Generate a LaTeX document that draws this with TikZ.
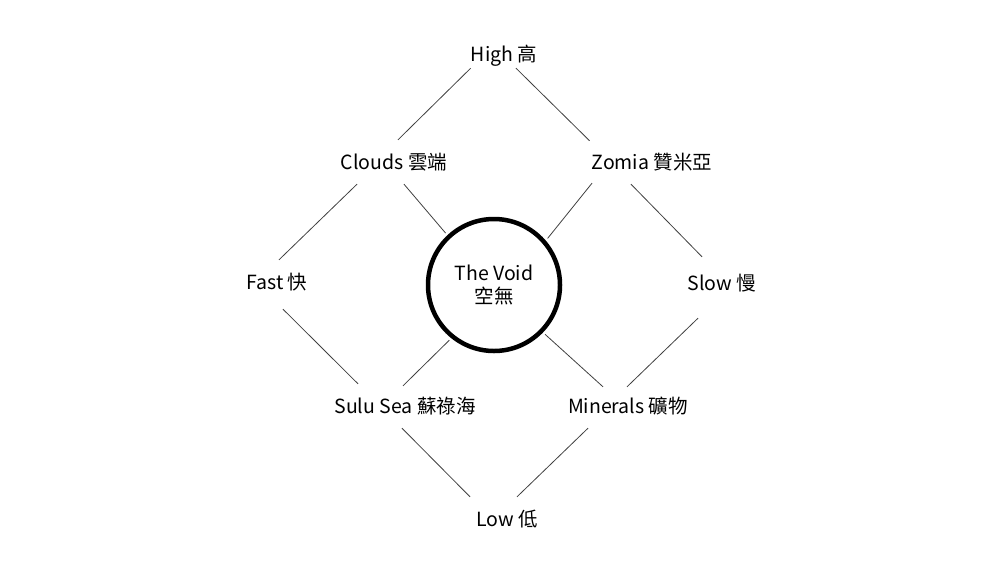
\documentclass[tikz,border=0pt]{standalone}
\usepackage{fontspec}
\setmainfont{Noto Sans CJK TC}
\begin{document}
\begin{tikzpicture}[
  x=1pt, y=-1pt,
  label/.style={inner sep=0pt, anchor=base, font=\fontsize{19.5}{23}\selectfont,
                text height=13pt, text depth=4pt},
  void/.style={circle, draw, line width=4.5pt, minimum size=132pt, inner sep=0pt,
               outer sep=5pt, align=center, font=\fontsize{19.5}{23}\selectfont},
  link/.style={draw=black!75, line width=0.8pt}
]
\useasboundingbox (0,0) rectangle (1000,563);
\node[label] (high) at (504,61) {High 高};
\node[label] (clouds) at (394,169) {Clouds 雲端};
\node[label] (zomia) at (652,169) {Zomia 贊米亞};
\node[label] (fast) at (277,289) {Fast 快};
\node[label] (slow) at (722,290) {Slow 慢};
\node[label] (sulu) at (405,413) {Sulu Sea 蘇祿海};
\node[label] (minerals) at (628,413) {Minerals 礦物};
\node[label] (low) at (507,526) {Low 低};
\node[void] (void) at (494,285) {\raisebox{-8pt}{\shortstack{The Void\\[3pt]空無}}};

% outer diamond
\draw[link] ([shift={(0,3)}]high.south west) -- ([shift={(4,-16)}]clouds.north);
\draw[link] ([shift={(12,3)}]high.south) -- ([shift={(-2,-15)}]zomia.north west);
\draw[link] ([shift={(-37,11)}]clouds.south) -- ([shift={(2,-16)}]fast.north);
\draw[link] ([shift={(-21,11)}]zomia.south) -- ([shift={(-20,-20)}]slow.north);
\draw[link] ([shift={(6,16)}]fast.south) -- ([shift={(-47,-16)}]sulu.north);
\draw[link] ([shift={(-24,24)}]slow.south) -- ([shift={(-1,-13)}]minerals.north);
\draw[link] ([shift={(-3,11)}]sulu.south) -- ([shift={(-6,-16)}]low.north west);
\draw[link] ([shift={(-40,11)}]minerals.south) -- ([shift={(10,-16)}]low.north);
% spokes to the void
\draw[link] ([shift={(10,11)}]clouds.south) -- (void.133);
\draw[link] ([shift={(-60,10)}]zomia.south) -- (void.41);
\draw[link] ([shift={(-2,-14)}]sulu.north) -- (void.231);
\draw[link] ([shift={(-25,-13)}]minerals.north) -- (void.316);
\end{tikzpicture}
\end{document}
